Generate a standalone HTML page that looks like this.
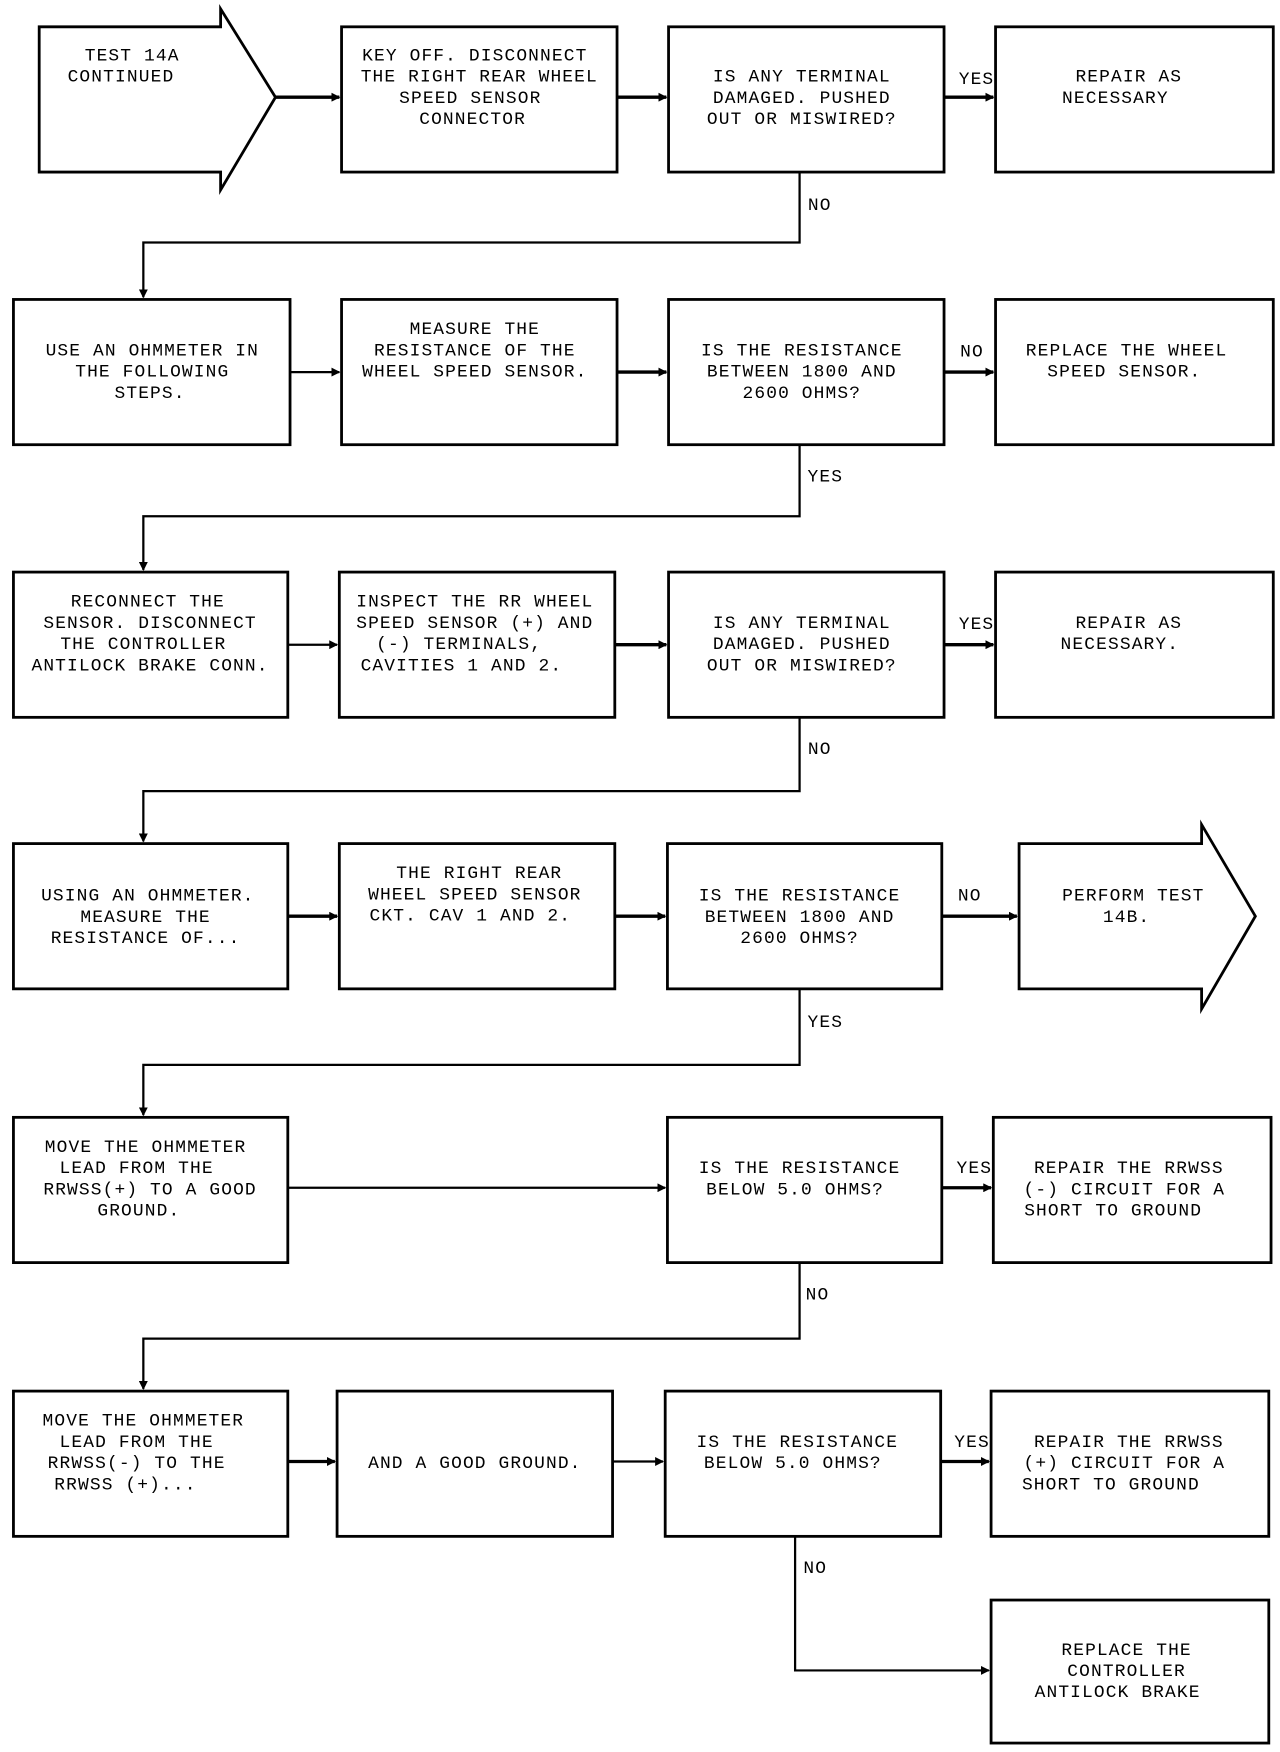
<!DOCTYPE html>
<html><head><meta charset="utf-8"><style>
html,body{margin:0;padding:0;background:#fff;width:1280px;height:1752px;overflow:hidden}
svg{display:block}
text{font-family:"Liberation Mono",monospace;font-size:16px;fill:#000;text-anchor:middle;letter-spacing:1px}
.b{fill:none;stroke:#000;stroke-width:2.5}
.l{fill:none;stroke:#000;stroke-width:2}
.h{fill:none;stroke:#000;stroke-width:3}
</style></head><body>
<svg width="1280" height="1752" viewBox="0 0 1143 1568" preserveAspectRatio="none">
<defs><marker id="a" markerWidth="8" markerHeight="8" refX="7" refY="4" orient="auto" markerUnits="userSpaceOnUse"><path d="M0,0 L8,4 L0,8 Z" fill="#000"/></marker></defs>

<!-- Row 1 -->
<path class="b" d="M35,24 H197 V8 L246,87 L197,170 V154 H35 Z"/>
<text x="118" y="54">TEST 14A</text><text x="108" y="73">CONTINUED</text>
<rect class="b" x="305" y="24" width="246" height="130"/>
<text x="424" y="54">KEY OFF. DISCONNECT</text><text x="428" y="73">THE RIGHT REAR WHEEL</text><text x="420" y="92">SPEED SENSOR</text><text x="422" y="111">CONNECTOR</text>
<rect class="b" x="597" y="24" width="246" height="130"/>
<text x="716" y="73">IS ANY TERMINAL</text><text x="716" y="92">DAMAGED. PUSHED</text><text x="716" y="111">OUT OR MISWIRED?</text>
<rect class="b" x="889" y="24" width="248" height="130"/>
<text x="1008" y="73">REPAIR AS</text><text x="996" y="92">NECESSARY</text>
<line class="h" x1="246" y1="87" x2="303" y2="87" marker-end="url(#a)"/>
<line class="h" x1="551" y1="87" x2="595" y2="87" marker-end="url(#a)"/>
<line class="h" x1="843" y1="87" x2="887" y2="87" marker-end="url(#a)"/>
<text x="872" y="75">YES</text>
<path class="l" d="M714,154 V217 H128 V266" marker-end="url(#a)"/>
<text x="732" y="188">NO</text>

<!-- Row 2 -->
<rect class="b" x="12" y="268" width="247" height="130"/>
<text x="136" y="318">USE AN OHMMETER IN</text><text x="136" y="337">THE FOLLOWING</text><text x="134" y="356">STEPS.</text>
<rect class="b" x="305" y="268" width="246" height="130"/>
<text x="424" y="299">MEASURE THE</text><text x="424" y="318">RESISTANCE OF THE</text><text x="424" y="337">WHEEL SPEED SENSOR.</text>
<rect class="b" x="597" y="268" width="246" height="130"/>
<text x="716" y="318">IS THE RESISTANCE</text><text x="716" y="337">BETWEEN 1800 AND</text><text x="716" y="356">2600 OHMS?</text>
<rect class="b" x="889" y="268" width="248" height="130"/>
<text x="1006" y="318">REPLACE THE WHEEL</text><text x="1004" y="337">SPEED SENSOR.</text>
<line class="l" x1="259" y1="333" x2="303" y2="333" marker-end="url(#a)"/>
<line class="h" x1="551" y1="333" x2="595" y2="333" marker-end="url(#a)"/>
<line class="h" x1="843" y1="333" x2="887" y2="333" marker-end="url(#a)"/>
<text x="868" y="319">NO</text>
<path class="l" d="M714,398 V462 H128 V510" marker-end="url(#a)"/>
<text x="737" y="431">YES</text>

<!-- Row 3 -->
<rect class="b" x="12" y="512" width="245" height="130"/>
<text x="132" y="543">RECONNECT THE</text><text x="134" y="562">SENSOR. DISCONNECT</text><text x="128" y="581">THE CONTROLLER</text><text x="134" y="600">ANTILOCK BRAKE CONN.</text>
<rect class="b" x="303" y="512" width="246" height="130"/>
<text x="424" y="543">INSPECT THE RR WHEEL</text><text x="424" y="562">SPEED SENSOR (+) AND</text><text x="410" y="581">(-) TERMINALS,</text><text x="412" y="600">CAVITIES 1 AND 2.</text>
<rect class="b" x="597" y="512" width="246" height="130"/>
<text x="716" y="562">IS ANY TERMINAL</text><text x="716" y="581">DAMAGED. PUSHED</text><text x="716" y="600">OUT OR MISWIRED?</text>
<rect class="b" x="889" y="512" width="248" height="130"/>
<text x="1008" y="562">REPAIR AS</text><text x="1000" y="581">NECESSARY.</text>
<line class="l" x1="257" y1="577" x2="301" y2="577" marker-end="url(#a)"/>
<line class="h" x1="549" y1="577" x2="595" y2="577" marker-end="url(#a)"/>
<line class="h" x1="843" y1="577" x2="887" y2="577" marker-end="url(#a)"/>
<text x="872" y="563">YES</text>
<path class="l" d="M714,642 V708 H128 V753" marker-end="url(#a)"/>
<text x="732" y="675">NO</text>

<!-- Row 4 -->
<rect class="b" x="12" y="755" width="245" height="130"/>
<text x="132" y="806">USING AN OHMMETER.</text><text x="130" y="825">MEASURE THE</text><text x="130" y="844">RESISTANCE OF...</text>
<rect class="b" x="303" y="755" width="246" height="130"/>
<text x="428" y="786">THE RIGHT REAR</text><text x="424" y="805">WHEEL SPEED SENSOR</text><text x="420" y="824">CKT. CAV 1 AND 2.</text>
<rect class="b" x="596" y="755" width="245" height="130"/>
<text x="714" y="806">IS THE RESISTANCE</text><text x="714" y="825">BETWEEN 1800 AND</text><text x="714" y="844">2600 OHMS?</text>
<path class="b" d="M910,755 H1073 V738 L1121,820 L1073,903 V885 H910 Z"/>
<text x="1012" y="806">PERFORM TEST</text><text x="1006" y="825">14B.</text>
<line class="h" x1="257" y1="820" x2="301" y2="820" marker-end="url(#a)"/>
<line class="h" x1="549" y1="820" x2="594" y2="820" marker-end="url(#a)"/>
<line class="h" x1="841" y1="820" x2="908" y2="820" marker-end="url(#a)"/>
<text x="866" y="806">NO</text>
<path class="l" d="M714,885 V953 H128 V998" marker-end="url(#a)"/>
<text x="737" y="919">YES</text>

<!-- Row 5 -->
<rect class="b" x="12" y="1000" width="245" height="130"/>
<text x="130" y="1031">MOVE THE OHMMETER</text><text x="122" y="1050">LEAD FROM THE</text><text x="134" y="1069">RRWSS(+) TO A GOOD</text><text x="124" y="1088">GROUND.</text>
<rect class="b" x="596" y="1000" width="245" height="130"/>
<text x="714" y="1050">IS THE RESISTANCE</text><text x="710" y="1069">BELOW 5.0 OHMS?</text>
<rect class="b" x="887" y="1000" width="248" height="130"/>
<text x="1008" y="1050">REPAIR THE RRWSS</text><text x="1004" y="1069">(-) CIRCUIT FOR A</text><text x="994" y="1088">SHORT TO GROUND</text>
<line class="l" x1="257" y1="1063" x2="594" y2="1063" marker-end="url(#a)"/>
<line class="h" x1="841" y1="1063" x2="885" y2="1063" marker-end="url(#a)"/>
<text x="870" y="1050">YES</text>
<path class="l" d="M714,1130 V1198 H128 V1243" marker-end="url(#a)"/>
<text x="730" y="1163">NO</text>

<!-- Row 6 -->
<rect class="b" x="12" y="1245" width="245" height="130"/>
<text x="128" y="1276">MOVE THE OHMMETER</text><text x="122" y="1295">LEAD FROM THE</text><text x="122" y="1314">RRWSS(-) TO THE</text><text x="112" y="1333">RRWSS (+)...</text>
<rect class="b" x="301" y="1245" width="246" height="130"/>
<text x="424" y="1314">AND A GOOD GROUND.</text>
<rect class="b" x="594" y="1245" width="246" height="130"/>
<text x="712" y="1295">IS THE RESISTANCE</text><text x="708" y="1314">BELOW 5.0 OHMS?</text>
<rect class="b" x="885" y="1245" width="248" height="130"/>
<text x="1008" y="1295">REPAIR THE RRWSS</text><text x="1004" y="1314">(+) CIRCUIT FOR A</text><text x="992" y="1333">SHORT TO GROUND</text>
<line class="h" x1="257" y1="1308" x2="299" y2="1308" marker-end="url(#a)"/>
<line class="l" x1="547" y1="1308" x2="592" y2="1308" marker-end="url(#a)"/>
<line class="h" x1="840" y1="1308" x2="883" y2="1308" marker-end="url(#a)"/>
<text x="868" y="1295">YES</text>
<path class="l" d="M710,1375 V1495 H883" marker-end="url(#a)"/>
<text x="728" y="1408">NO</text>

<!-- Row 7 -->
<rect class="b" x="885" y="1432" width="248" height="128"/>
<text x="1006" y="1481">REPLACE THE</text><text x="1006" y="1500">CONTROLLER</text><text x="998" y="1519">ANTILOCK BRAKE</text>
</svg>
</body></html>
